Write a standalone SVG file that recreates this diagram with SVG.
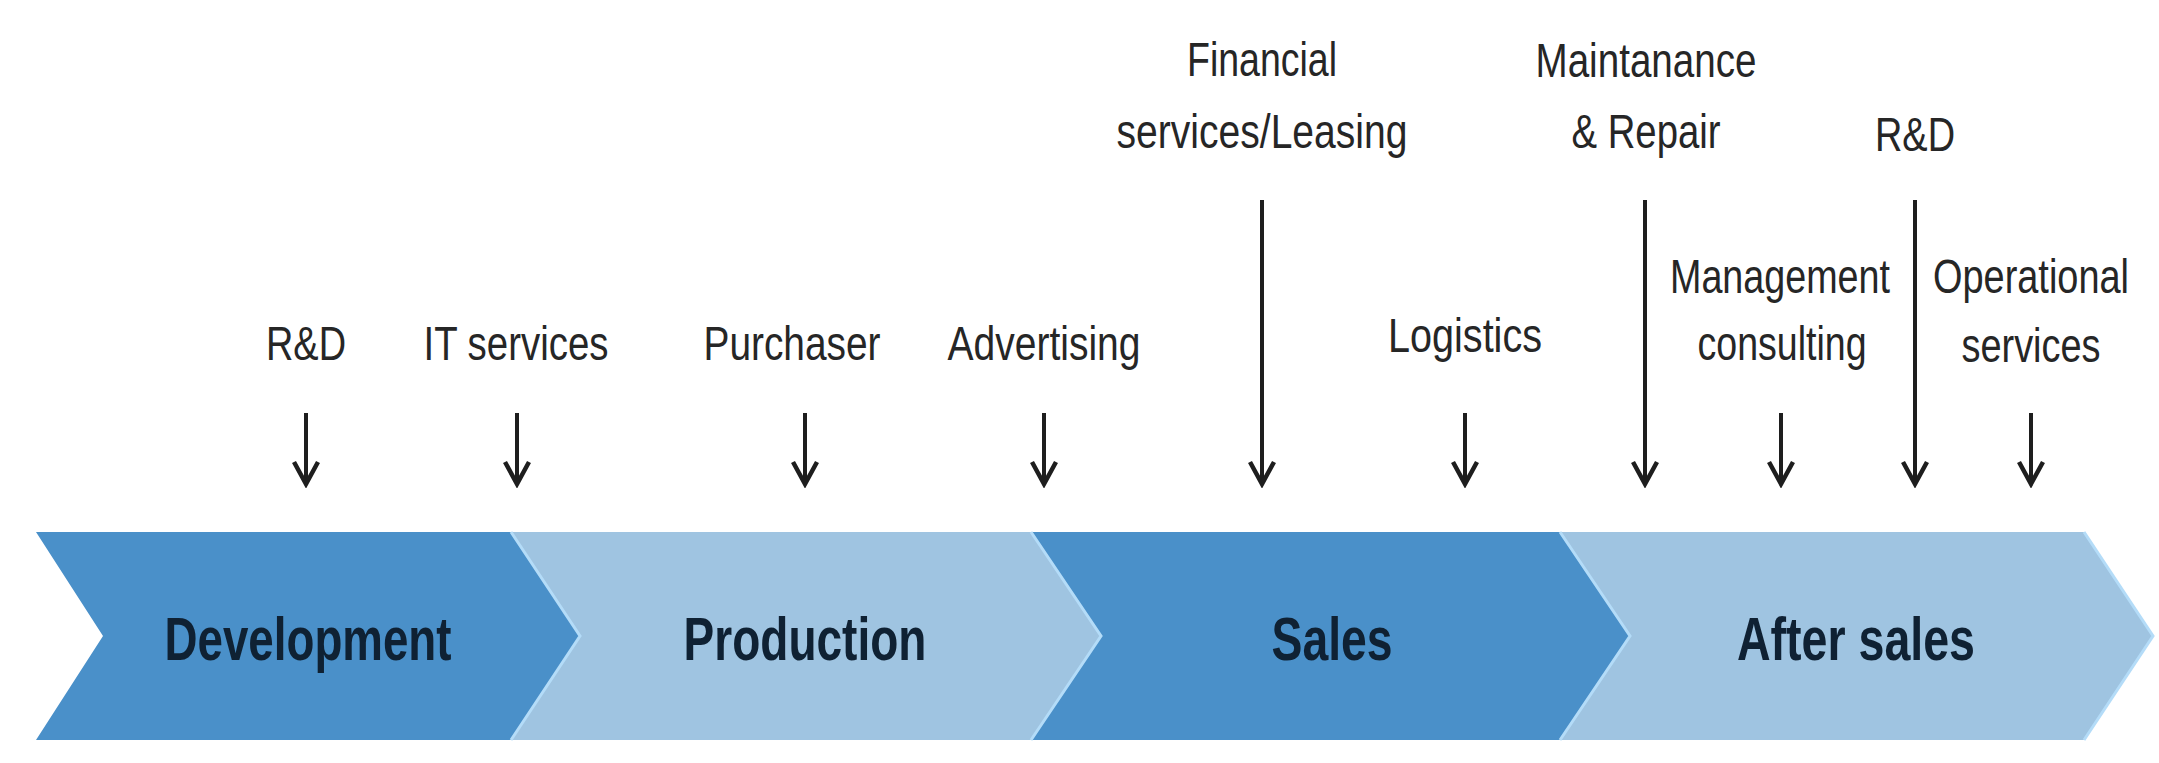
<svg xmlns="http://www.w3.org/2000/svg" width="2159" height="763" viewBox="0 0 2159 763">
  <style>
    .stage-dark { fill: #4a90c9; }
    .stage-light { fill: #9fc4e1; }
    .edge { fill: none; stroke: #b4dcf8; stroke-width: 3; stroke-linejoin: miter; }
    .stage-label { font-family: "Liberation Sans", Arial, sans-serif; font-weight: bold; font-size: 62px; fill: #0f2133; text-anchor: middle; }
    .svc { font-family: "Liberation Sans", Arial, sans-serif; font-size: 48px; fill: #262626; text-anchor: middle; }
    .arrow { fill: none; stroke: #1e1e1e; stroke-width: 4; marker-end: url(#head); }
  </style>
  <defs>
    <marker id="head" viewBox="-26 -16 30 32" refX="0" refY="0" markerWidth="30" markerHeight="32" markerUnits="userSpaceOnUse" orient="auto">
      <path d="M -22 -12 L 0 0 L -22 12" fill="none" stroke="#1e1e1e" stroke-width="4.5" stroke-linejoin="miter"/>
    </marker>
  </defs>

  <rect width="2159" height="763" fill="#ffffff"/>

  <!-- value chain stages -->
  <g id="stage-development">
    <polygon class="stage-dark" points="36,532 511,532 580,636 511,740 36,740 103,636"/>
    <text class="stage-label" x="308" y="660" textLength="287" lengthAdjust="spacingAndGlyphs">Development</text>
  </g>
  <g id="stage-production">
    <polygon class="stage-light" points="511,532 1031,532 1101,636 1031,740 511,740 580,636"/>
    <text class="stage-label" x="805" y="660" textLength="243" lengthAdjust="spacingAndGlyphs">Production</text>
  </g>
  <g id="stage-sales">
    <polygon class="stage-dark" points="1031,532 1560,532 1630,636 1560,740 1031,740 1101,636"/>
    <text class="stage-label" x="1332" y="660" textLength="121" lengthAdjust="spacingAndGlyphs">Sales</text>
  </g>
  <g id="stage-after-sales">
    <polygon class="stage-light" points="1560,532 2084,532 2153,636 2084,740 1560,740 1630,636"/>
    <text class="stage-label" x="1856" y="660" textLength="238" lengthAdjust="spacingAndGlyphs">After sales</text>
  </g>

  <!-- light seams between chevrons -->
  <g id="seams">
    <polyline class="edge" points="511,532 580,636 511,740"/>
    <polyline class="edge" points="1031,532 1101,636 1031,740"/>
    <polyline class="edge" points="1560,532 1630,636 1560,740"/>
    <polyline class="edge" points="2084,532 2153,636 2084,740"/>
  </g>

  <!-- service labels -->
  <g id="svc-rd-dev">
    <text class="svc" x="306" y="360" textLength="80" lengthAdjust="spacingAndGlyphs">R&amp;D</text>
  </g>
  <g id="svc-it">
    <text class="svc" x="516" y="360" textLength="185" lengthAdjust="spacingAndGlyphs">IT services</text>
  </g>
  <g id="svc-purchaser">
    <text class="svc" x="792" y="360" textLength="177" lengthAdjust="spacingAndGlyphs">Purchaser</text>
  </g>
  <g id="svc-advertising">
    <text class="svc" x="1044" y="360" textLength="193" lengthAdjust="spacingAndGlyphs">Advertising</text>
  </g>
  <g id="svc-financial">
    <text class="svc" x="1262" y="76" textLength="150" lengthAdjust="spacingAndGlyphs">Financial</text>
    <text class="svc" x="1262" y="148" textLength="291" lengthAdjust="spacingAndGlyphs">services/Leasing</text>
  </g>
  <g id="svc-logistics">
    <text class="svc" x="1465" y="352" textLength="154" lengthAdjust="spacingAndGlyphs">Logistics</text>
  </g>
  <g id="svc-maintenance">
    <text class="svc" x="1646" y="77" textLength="221" lengthAdjust="spacingAndGlyphs">Maintanance</text>
    <text class="svc" x="1646" y="148" textLength="149" lengthAdjust="spacingAndGlyphs">&amp; Repair</text>
  </g>
  <g id="svc-management">
    <text class="svc" x="1780" y="293" textLength="220" lengthAdjust="spacingAndGlyphs">Management</text>
    <text class="svc" x="1782" y="360" textLength="169" lengthAdjust="spacingAndGlyphs">consulting</text>
  </g>
  <g id="svc-rd-after">
    <text class="svc" x="1915" y="151" textLength="80" lengthAdjust="spacingAndGlyphs">R&amp;D</text>
  </g>
  <!-- narrowed with a transform so the label stays clear of the right edge -->
  <g id="svc-operational" transform="translate(2031,0) scale(0.79,1)">
    <text class="svc" x="0" y="293">Operational</text>
    <text class="svc" x="0" y="362">services</text>
  </g>

  <!-- arrows pointing into the chain -->
  <g id="connectors">
    <line class="arrow" x1="306" y1="413" x2="306" y2="484"/>
    <line class="arrow" x1="517" y1="413" x2="517" y2="484"/>
    <line class="arrow" x1="805" y1="413" x2="805" y2="484"/>
    <line class="arrow" x1="1044" y1="413" x2="1044" y2="484"/>
    <line class="arrow" x1="1262" y1="200" x2="1262" y2="484"/>
    <line class="arrow" x1="1465" y1="413" x2="1465" y2="484"/>
    <line class="arrow" x1="1645" y1="200" x2="1645" y2="484"/>
    <line class="arrow" x1="1781" y1="413" x2="1781" y2="484"/>
    <line class="arrow" x1="1915" y1="200" x2="1915" y2="484"/>
    <line class="arrow" x1="2031" y1="413" x2="2031" y2="484"/>
  </g>
</svg>
